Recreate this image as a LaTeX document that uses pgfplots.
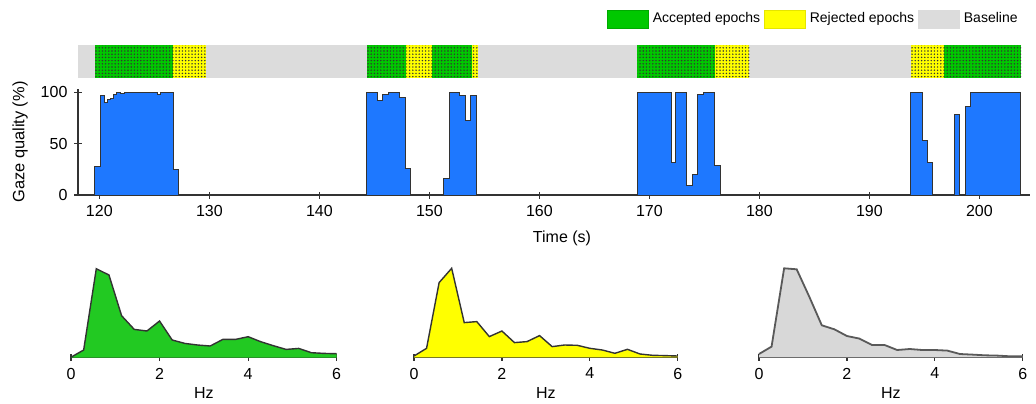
\documentclass[border=0pt]{standalone}
\usepackage{pgfplots}
\pgfplotsset{compat=1.18}
\usepackage{pgfplotstable}
\usepackage{fontspec}
\setmainfont{Liberation Sans}
\usetikzlibrary{patterns}
\pgfdeclarepatternformonly{mydots}{\pgfqpoint{-0.5pt}{-0.5pt}}{\pgfqpoint{0.5pt}{0.5pt}}{\pgfqpoint{1.6pt}{1.6pt}}{\pgfpathcircle{\pgfqpoint{0pt}{0pt}}{0.4pt}\pgfusepath{fill}}
\definecolor{gzblue}{HTML}{1E78FF}
\definecolor{accgreen}{HTML}{00C800}
\definecolor{rejyellow}{HTML}{FFFF00}
\definecolor{basegray}{HTML}{DCDCDC}
\definecolor{psdgreen}{HTML}{22C922}
\definecolor{psdgray}{HTML}{D8D8D8}
\definecolor{outl}{HTML}{333333}

\pgfplotstableread{
x g y b
0.0000 0.5 1.3 3.3
0.2857 7.7 9.0 10.7
0.5714 89.0 74.7 89.0
0.8571 82.7 89.0 88.0
1.1429 42.0 34.7 60.7
1.4286 28.3 35.7 32.0
1.7143 26.7 20.7 28.0
2.0000 36.7 26.3 21.3
2.2857 17.7 14.7 18.7
2.5714 14.3 15.7 12.3
2.8571 12.7 21.7 12.3
3.1429 11.7 10.7 7.3
3.4286 18.3 12.3 8.3
3.7143 18.3 12.0 7.3
4.0000 21.0 9.0 7.3
4.2857 16.0 7.3 6.7
4.5714 12.0 4.0 3.3
4.8571 8.3 8.0 2.7
5.1429 9.3 3.3 2.0
5.4286 5.0 2.0 1.7
5.7143 4.3 1.7 1.0
6.0000 4.0 1.3 1.0
}\psd

\pgfplotsset{
 /pgf/number format/assume math mode=true,
 myaxis/.style={scale only axis, anchor=south west,
   tick style={line width=0.6pt, outl},
   tick align=outside, major tick length=3.5pt,
   ticklabel style={font=\fontsize{8}{9.6}\selectfont},
   label style={font=\fontsize{8}{9.6}\selectfont},
   clip=false},
 nolinearrows/.style={axis line style={-, line width=0.6pt, outl},
   x axis line style={-}, y axis line style={-}},
 gaze/.style={const plot, fill=gzblue, draw=outl, line width=0.5pt},
}
\newcommand{\epoch}[3]{\addplot[forget plot, draw=none, fill=#3, postaction={pattern=mydots, pattern color=black!80}] coordinates {(#1,1) (#2,1)} \closedcycle;}

\begin{document}
\begin{tikzpicture}
\path[use as bounding box] (0,0) rectangle (518pt,201.5pt);

% epoch strip with legend
\begin{axis}[myaxis, at={(39pt,162.65pt)}, width=476pt, height=16.35pt,
  xmin=118.06, xmax=204.6, ymin=0, ymax=1, hide axis,
  legend image code/.code={\draw[#1] (0pt,-4.5pt) rectangle (20.5pt,4.5pt);},
  legend style={at={(0.9916,1.795)}, anchor=east, draw=none, fill=none, inner sep=0pt,
    legend columns=3, font=\fontsize{7}{8}\selectfont,
    /tikz/every even column/.append style={column sep=0pt}}]
\addlegendimage{fill=accgreen, draw=accgreen!85!black, line width=0.3pt}
\addlegendentry{Accepted epochs}
\addlegendimage{fill=rejyellow, draw=rejyellow!90!black, line width=0.3pt}
\addlegendentry{Rejected epochs}
\addlegendimage{fill=basegray, draw=basegray}
\addlegendentry{Baseline}
\addplot[forget plot, draw=none, fill=basegray] coordinates {(118.06,1) (203.8,1)} \closedcycle;
\epoch{119.6}{126.7}{accgreen}
\epoch{126.7}{129.7}{rejyellow}
\epoch{144.3}{147.9}{accgreen}
\epoch{147.9}{150.25}{rejyellow}
\epoch{150.25}{153.85}{accgreen}
\epoch{153.85}{154.4}{rejyellow}
\epoch{168.9}{176.0}{accgreen}
\epoch{176.0}{179.1}{rejyellow}
\epoch{193.75}{196.75}{rejyellow}
\epoch{196.75}{203.8}{accgreen}
\end{axis}

% gaze quality
\begin{axis}[myaxis, at={(39pt,104pt)}, width=476pt, height=52.9pt,
  xmin=118.06, xmax=204.6, ymin=0, ymax=103,
  axis x line=bottom, axis y line=left, nolinearrows,
  xtick={120,130,...,200}, ytick={0,50,100},
  xlabel={Time (s)}, ylabel={Gaze quality (\%)},
  xlabel style={at={(axis description cs:0.5084,-0.406)}, anchor=center},
  ylabel style={at={(axis description cs:-0.0609,0.5)}, anchor=center, font=\fontsize{8.2}{9.6}\selectfont}]
\addplot[gaze] coordinates {(119.6,28) (120.15,97) (120.5,90) (120.75,92.5) (121.0,94) (121.3,98) (121.55,100) (121.95,98.5) (122.3,100) (125.25,98) (125.6,100) (126.7,25) (127.2,0)} \closedcycle;
\addplot[gaze] coordinates {(144.3,100) (145.25,92) (145.75,97.5) (146.3,100) (147.3,94.5) (147.8,26) (148.3,0)} \closedcycle;
\addplot[gaze] coordinates {(151.25,16) (151.85,100) (152.7,96.5) (153.25,73) (153.75,97) (154.3,0)} \closedcycle;
\addplot[gaze] coordinates {(168.9,100) (172.0,32) (172.4,100) (173.4,9.5) (173.95,19.5) (174.4,98) (174.9,100) (175.95,29) (176.45,0)} \closedcycle;
\addplot[gaze] coordinates {(193.7,100) (194.85,53) (195.28,31.5) (195.78,0)} \closedcycle;
\addplot[gaze] coordinates {(197.75,78) (198.22,0)} \closedcycle;
\addplot[gaze] coordinates {(198.72,86) (199.22,100) (203.75,0)} \closedcycle;
\end{axis}

% spectra
\begin{axis}[myaxis, at={(35.5pt,22.65pt)}, width=132.85pt, height=45pt,
  xmin=0, xmax=6, ymin=0, ymax=90, axis x line=bottom, axis y line=none, nolinearrows,
  xtick={0,2,4,6}, xlabel={Hz}, xlabel style={at={(axis description cs:0.5,-0.392)}, anchor=center}]
\addplot[draw=none, fill=psdgreen] table[x=x,y=g] {\psd} \closedcycle;
\addplot[outl, line width=0.7pt] table[x=x,y=g] {\psd};
\end{axis}

\begin{axis}[myaxis, at={(207pt,22.85pt)}, width=131.85pt, height=45pt,
  xmin=0, xmax=6, ymin=0, ymax=90, axis x line=bottom, axis y line=none, nolinearrows,
  xtick={0,2,4,6}, xlabel={Hz}, xlabel style={at={(axis description cs:0.5,-0.392)}, anchor=center}]
\addplot[draw=none, fill=rejyellow] table[x=x,y=y] {\psd} \closedcycle;
\addplot[outl, line width=0.7pt] table[x=x,y=y] {\psd};
\end{axis}

\begin{axis}[myaxis, at={(379.5pt,22.85pt)}, width=131.85pt, height=45pt,
  xmin=0, xmax=6, ymin=0, ymax=90, axis x line=bottom, axis y line=none, nolinearrows,
  xtick={0,2,4,6}, xlabel={Hz}, xlabel style={at={(axis description cs:0.5,-0.392)}, anchor=center}]
\addplot[draw=none, fill=psdgray] table[x=x,y=b] {\psd} \closedcycle;
\addplot[black!65, line width=0.9pt] table[x=x,y=b] {\psd};
\end{axis}
\end{tikzpicture}
\end{document}
